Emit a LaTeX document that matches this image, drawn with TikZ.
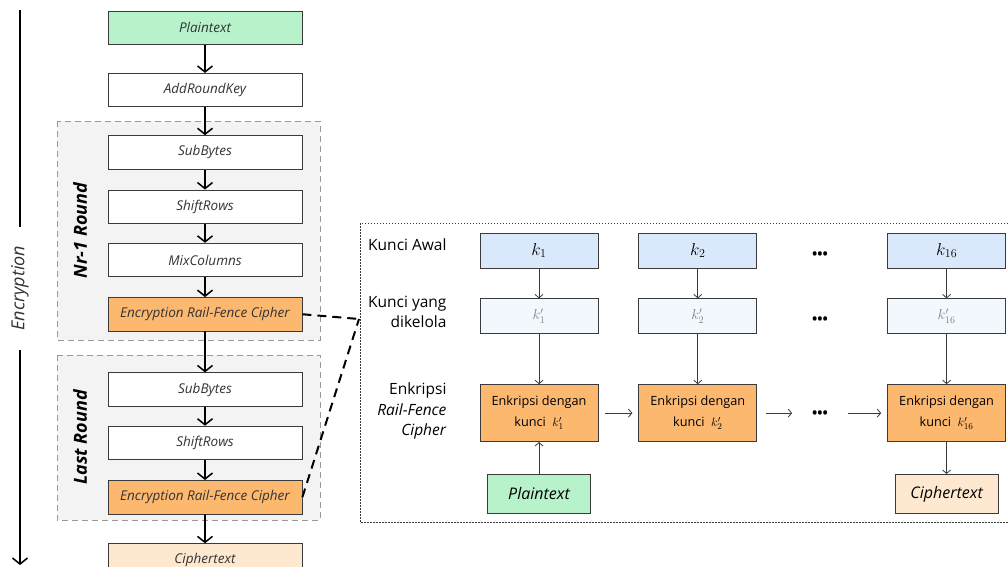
\documentclass[tikz,border=0pt]{standalone}
\usepackage{fontspec}
\setmainfont{Open Sans}
\usetikzlibrary{positioning}
\usetikzlibrary{backgrounds}
\usetikzlibrary{arrows.meta}
\definecolor{ptgreen}{HTML}{B7F2CB}
\definecolor{rforange}{HTML}{FDB870}
\definecolor{ctpeach}{HTML}{FEE9D0}
\definecolor{keyblue}{HTML}{DAE8FC}
\definecolor{keypale}{HTML}{F3F8FE}
\definecolor{roundgray}{HTML}{F3F3F3}
\definecolor{boxline}{HTML}{3A3A3A}
\definecolor{txtgray}{HTML}{333333}
\tikzset{
	stepbox/.style={
		draw=boxline,
		line width=0.8pt,
		fill=white,
		minimum width=194pt,
		minimum height=33.5pt,
		inner sep=0pt,
		text=txtgray,
		font=\fontsize{13.5}{15}\selectfont\itshape
	},
	keybox/.style={
		draw=boxline,
		line width=0.8pt,
		fill=#1,
		minimum width=118pt,
		minimum height=35pt,
		inner sep=0pt
	},
	keybox/.default={keyblue},
	encbox/.style={
		keybox=rforange,
		minimum height=57pt,
		align=center,
		font=\fontsize{12.7}{21}\selectfont
	},
	endbox/.style={
		keybox=#1,
		minimum width=103pt,
		minimum height=39pt,
		font=\fontsize{16}{18}\selectfont\itshape
	},
	rowlabel/.style={
		anchor=east,
		align=right,
		font=\fontsize{15.5}{20.5}\selectfont
	},
	roundlabel/.style={
		rotate=90,
		font=\fontsize{18}{20}\selectfont\bfseries\itshape
	},
	roundframe/.style={
		draw=gray!80,
		fill=roundgray,
		line width=0.8pt,
		dash pattern=on 6pt off 4pt
	},
	steparrow/.style={
		-{Straight Barb[length=6pt,width=15pt]},
		line width=1.5pt
	},
	flowarrow/.style={
		-{Straight Barb[length=3.5pt,width=8pt]},
		line width=0.8pt,
		draw=boxline
	},
	zoomline/.style={
		line width=2pt,
		dash pattern=on 9pt off 6pt
	},
	dots/.style={
		font=\fontsize{18}{20}\selectfont,
		inner xsep=19pt
	}
}
\newcommand \tribullet {\textbullet\hspace{-1.5pt}\textbullet\hspace{-1.5pt}\textbullet}

\begin{document}
\begin{tikzpicture}[x=1pt, y=-1pt]
	\useasboundingbox (0,0) rectangle (1008,566);

	% AES encryption column
	\node[stepbox, fill=ptgreen] (plain) at (205,27.75) {Plaintext};
	\node[stepbox, below=28pt of plain] (ark) {AddRoundKey};
	\node[stepbox, below=28pt of ark] (sba) {SubBytes};
	\node[stepbox, below=20pt of sba] (sra) {ShiftRows};
	\node[stepbox, below=19pt of sra] (mix) {MixColumns};
	\node[stepbox, fill=rforange, below=20pt of mix] (rfca) {Encryption Rail-Fence Cipher};
	\node[stepbox, below=41pt of rfca] (sbb) {SubBytes};
	\node[stepbox, below=19pt of sbb] (srb) {ShiftRows};
	\node[stepbox, fill=rforange, below=20pt of srb] (rfcb) {Encryption Rail-Fence Cipher};
	\node[stepbox, fill=ctpeach, below=29pt of rfcb] (ciph) {Ciphertext};

	\begin{scope}[on background layer]
		\draw[roundframe] (57,121) rectangle (320,340);
		\draw[roundframe] (57,355) rectangle (320,520);
	\end{scope}
	\node[roundlabel] (nrround) at (80,230.5) {Nr-1 Round};
	\node[roundlabel] (lastround) at (80,437.5) {Last Round};

	\draw[steparrow] (plain) -- (ark);
	\draw[steparrow] (ark) -- (sba);
	\draw[steparrow] (sba) -- (sra);
	\draw[steparrow] (sra) -- (mix);
	\draw[steparrow] (mix) -- (rfca);
	\draw[steparrow] (rfca) -- (sbb);
	\draw[steparrow] (sbb) -- (srb);
	\draw[steparrow] (srb) -- (rfcb);
	\draw[steparrow] (rfcb) -- (ciph);

	% time axis
	\node[roundlabel, font=\fontsize{18}{20}\selectfont\itshape, text=txtgray,
		inner xsep=19pt, inner ysep=2pt] (enclabel) at (20,288) {Encryption};
	\coordinate (axtop) at (20,10);
	\coordinate (axbot) at (20,565);
	\draw[line width=1.5pt] (axtop) -- (enclabel);
	\draw[steparrow] (enclabel) -- (axbot);

	% rail-fence detail
	\draw[boxline, line width=1pt, dash pattern=on 1.5pt off 1.5pt] (360,223) rectangle (1012,522);
	\coordinate (zoomtip) at (359,319);
	\draw[zoomline] (rfca.east) -- (zoomtip);
	\draw[zoomline] (rfcb.east) -- (zoomtip);

	\node[rowlabel] (lblawal) at (450,245) {Kunci Awal};
	\node[rowlabel] (lblkelola) at (450,312) {Kunci yang\\dikelola};
	\node[rowlabel] (lblenc) at (450,411) {Enkripsi\\\textit{Rail-Fence}\\\textit{Cipher}};

	\node[keybox, font=\fontsize{17}{19}\selectfont] (ka) at (539,250.5) {$k_1$};
	\node[keybox, font=\fontsize{17}{19}\selectfont, right=40pt of ka] (kb) {$k_2$};
	\node[keybox, font=\fontsize{17}{19}\selectfont, right=130pt of kb] (kp) {$k_{16}$};

	\node[keybox=keypale, text=gray, font=\fontsize{14}{16}\selectfont, below=30pt of ka] (kka) {$k'_1$};
	\node[keybox=keypale, text=gray, font=\fontsize{14}{16}\selectfont, below=30pt of kb] (kkb) {$k'_2$};
	\node[keybox=keypale, text=gray, font=\fontsize{14}{16}\selectfont, below=30pt of kp] (kkp) {$k'_{16}$};

	\node[encbox, below=50pt of kka] (enca) {Enkripsi dengan\\kunci \ $k'_1$};
	\node[encbox, below=50pt of kkb] (encb) {Enkripsi dengan\\kunci \ $k'_2$};
	\node[encbox, below=50pt of kkp] (encp) {Enkripsi dengan\\kunci \ $k'_{16}$};

	\node[endbox=ptgreen, below=32pt of enca] (ptext) {Plaintext};
	\node[endbox=ctpeach, below=32pt of encp] (ctext) {Ciphertext};

	\node[dots] (dotsk) at (820,256) {\tribullet};
	\node[dots] (dotskk) at (820,321) {\tribullet};
	\node[dots] (dotsenc) at (820,415) {\tribullet};

	\draw[flowarrow] (ka) -- (kka);
	\draw[flowarrow] (kb) -- (kkb);
	\draw[flowarrow] (kp) -- (kkp);
	\draw[flowarrow] (kka) -- (enca);
	\draw[flowarrow] (kkb) -- (encb);
	\draw[flowarrow] (kkp) -- (encp);
	\draw[flowarrow] (ptext) -- (enca);
	\draw[flowarrow] (encp) -- (ctext);
	\draw[flowarrow, shorten <=7pt, shorten >=6pt] (enca) -- (encb);
	\draw[flowarrow, shorten <=9pt] (encb) -- (encb -| dotsenc.west);
	\draw[flowarrow, shorten >=6pt] (dotsenc.east |- encp) -- (encp);
\end{tikzpicture}
\end{document}
